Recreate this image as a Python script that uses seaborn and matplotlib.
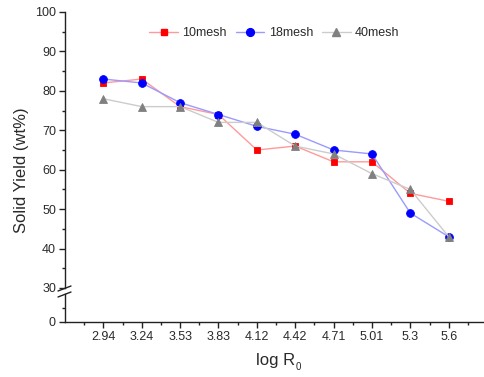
import numpy as np
import pandas as pd
import matplotlib
matplotlib.use("Agg")
import matplotlib.pyplot as plt
import seaborn as sns
from matplotlib.lines import Line2D
from matplotlib.ticker import MultipleLocator, FixedLocator

# ---- data ----
log_r0 = ["2.94", "3.24", "3.53", "3.83", "4.12", "4.42", "4.71", "5.01", "5.3", "5.6"]
mesh10 = [82, 83, 76, 74, 65, 66, 62, 62, 54, 52]
mesh18 = [83, 82, 77, 74, 71, 69, 65, 64, 49, 43]
mesh40 = [78, 76, 76, 72, 72, 66, 64, 59, 55, 43]
series_names = ["10mesh", "18mesh", "40mesh"]

sns.set_style("ticks")
plt.rcParams["font.family"] = ["Liberation Sans", "DejaVu Sans"]

W, H = 485, 377
fig = plt.figure(figsize=(W / 100, H / 100), dpi=100)

def fx(px):
    return px / W

def fy(py):
    return 1 - py / H

left, right = 65, 484
ax = fig.add_axes([fx(left), fy(288), fx(right - left), fy(12) - fy(288)])
axb = fig.add_axes([fx(left), fy(322), fx(right - left), fy(294) - fy(322)])

pos = np.arange(len(log_r0))
styles = [
    dict(line="#ff9a9a", face="#ff0000", marker="s", ms=5.0),
    dict(line="#9a9aff", face="#0000ff", marker="o", ms=5.6),
    dict(line="#cccccc", face="#808080", marker="^", ms=6.0),
]
for name, vals, st in zip(series_names, [mesh10, mesh18, mesh40], styles):
    df = pd.DataFrame({"x": pos, "y": vals})
    sns.lineplot(data=df, x="x", y="y", ax=ax, color=st["line"], lw=1.0,
                 marker=st["marker"], markersize=st["ms"],
                 markerfacecolor=st["face"], markeredgecolor=st["face"],
                 markeredgewidth=0.6, label=name, legend=False)

xlim = (-1.0, 9.92)
for a in (ax, axb):
    a.set_xlim(*xlim)
    a.set_xlabel("")
    a.set_ylabel("")
    for s in ("top", "right"):
        a.spines[s].set_visible(False)
    a.spines["left"].set_linewidth(1.0)
    a.spines["bottom"].set_linewidth(1.0)
    a.spines["left"].set_color("#222222")
    a.spines["bottom"].set_color("#222222")
    a.tick_params(axis="both", which="major", length=4, width=1.0, color="#222222",
                  labelsize=9, labelcolor="#2a2a2a", pad=2.5)
    a.tick_params(axis="both", which="minor", length=2.5, width=1.0, color="#222222")

ax.set_ylim(30, 100)
ax.yaxis.set_major_locator(MultipleLocator(10))
ax.yaxis.set_minor_locator(MultipleLocator(5))
ax.spines["bottom"].set_visible(False)
ax.tick_params(axis="x", which="both", bottom=False, labelbottom=False)

axb.set_ylim(0, 10)
axb.yaxis.set_major_locator(FixedLocator([0]))
axb.yaxis.set_minor_locator(FixedLocator([5]))
axb.set_xticks(pos)
axb.set_xticklabels(log_r0)
axb.xaxis.set_minor_locator(FixedLocator(np.arange(-0.5, 10, 1.0)))
axb.patch.set_alpha(0)

# legend
handles = [Line2D([], [], color=st["line"], lw=1.0, marker=st["marker"],
                  markersize=st["ms"], markerfacecolor=st["face"],
                  markeredgecolor=st["face"]) for st in styles]
ax.legend(handles, series_names, loc="center", bbox_to_anchor=(0.5, 0.924),
          ncol=3, frameon=False, fontsize=9, handlelength=2.3,
          handletextpad=0.35, columnspacing=0.7, labelcolor="#2a2a2a")

# axis break marks
for y0 in (291, 297):
    fig.add_artist(Line2D([fx(58), fx(71)], [fy(y0), fy(y0 - 5)],
                          color="#222222", lw=1.0, transform=fig.transFigure))

fig.text(fx(22), fy(170), "Solid Yield (wt%)", rotation=90, ha="center",
         va="center", fontsize=12, color="#2a2a2a")
fig.text(fx(295), fy(360), "log R", ha="right",
         va="center", fontsize=12, color="#2a2a2a")
fig.text(fx(296), fy(367), "0", ha="left",
         va="center", fontsize=7, color="#2a2a2a")

fig.savefig("out.png", dpi=100, facecolor="white")
